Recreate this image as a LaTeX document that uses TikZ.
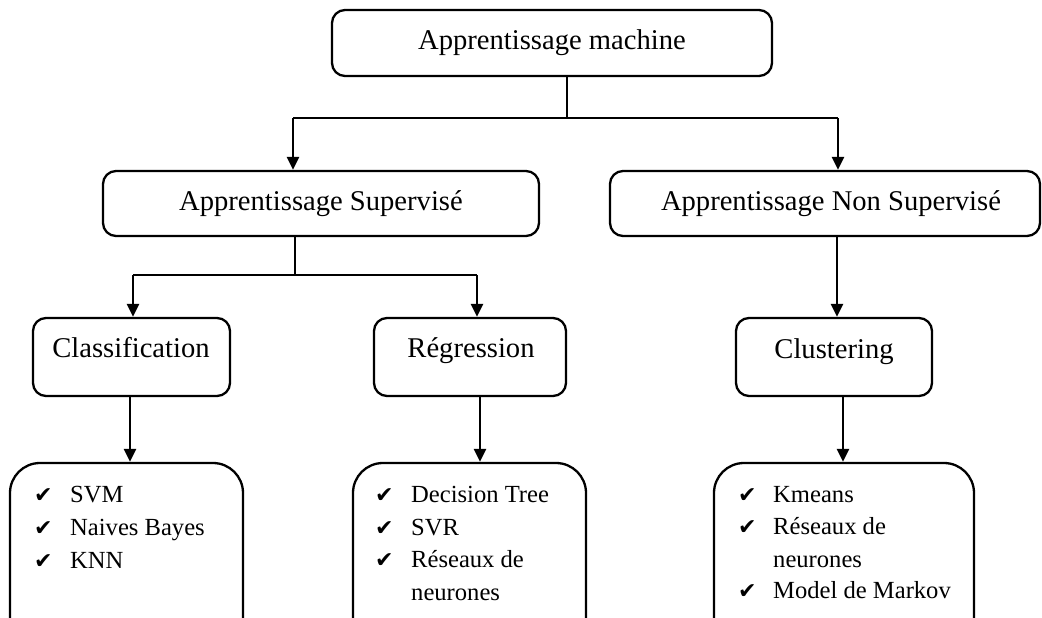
\documentclass[tikz,border=0pt]{standalone}
\usepackage{fontspec}
\setmainfont{Liberation Serif}
\newfontfamily\symfont{DejaVu Sans}
\usetikzlibrary{arrows.meta}
\begin{document}
\begin{tikzpicture}[x=1pt,y=-1pt,
  box/.style={draw=black, line width=2.3pt, rounded corners=13pt, inner sep=0pt},
  lbox/.style={draw=black, line width=2.3pt, rounded corners=30pt, inner sep=0pt},
  head/.style={font=\fontsize{28.6}{34}\selectfont, inner sep=0pt, anchor=base},
  item/.style={font=\fontsize{24.6}{33}\selectfont, inner sep=0pt, anchor=base west},
  chk/.style={font=\symfont\fontsize{22}{26}\selectfont, inner sep=0pt, anchor=base west},
  conn/.style={line width=2.3pt},
  arr/.style={line width=2.3pt, -{Triangle[width=12pt,length=13pt]}}
]
\path[use as bounding box, fill=white] (0,0) rectangle (1042,618);
\clip (0,0) rectangle (1042,618);

% boxes
\node[box, minimum width=440, minimum height=66] (top) at (552,43) {};
\node[box, minimum width=436, minimum height=65] (sup) at (321,203.5) {};
\node[box, minimum width=430, minimum height=65] (nsup) at (825,203.5) {};
\node[box, minimum width=197, minimum height=78] (cls) at (131.5,357) {};
\node[box, minimum width=192, minimum height=78] (reg) at (470,357) {};
\node[box, minimum width=196, minimum height=78] (clu) at (834,357) {};
\node[lbox, minimum width=233, minimum height=187] (b1) at (126.5,556.5) {};
\node[lbox, minimum width=233, minimum height=187] (b2) at (469.5,556.5) {};
\node[lbox, minimum width=260, minimum height=187] (b3) at (844,556.5) {};

% headings
\node[head] (ttop) at (552,50) {Apprentissage machine};
\node[head] (tsup) at (321,210) {Apprentissage Supervisé};
\node[head] (tnsup) at (831,210) {Apprentissage Non Supervisé};
\node[head] (tcls) at (131,357) {Classification};
\node[head] (treg) at (471,357) {Régression};
\node[head] (tclu) at (834,358) {Clustering};

% lists
\node[chk] (c11) at (34,502) {✔};
\node[item] (i11) at (70,502) {SVM};
\node[chk] (c12) at (34,535) {✔};
\node[item] (i12) at (70,535) {Naives Bayes};
\node[chk] (c13) at (34,568) {✔};
\node[item] (i13) at (70,568) {KNN};

\node[chk] (c21) at (375,502) {✔};
\node[item] (i21) at (411,502) {Decision Tree};
\node[chk] (c22) at (375,535) {✔};
\node[item] (i22) at (411,535) {SVR};
\node[chk] (c23) at (375,567) {✔};
\node[item] (i23) at (411,567) {Réseaux de};
\node[item] (i24) at (411,600) {neurones};

\node[chk] (c31) at (738,502) {✔};
\node[item] (i31) at (773,502) {Kmeans};
\node[chk] (c32) at (738,534) {✔};
\node[item] (i32) at (773,534) {Réseaux de};
\node[item] (i33) at (773,567) {neurones};
\node[chk] (c34) at (738,598) {✔};
\node[item] (i34) at (773,598) {Model de Markov};

% connectors
\coordinate (j1) at (567,118);
\coordinate (a1) at (293,118);
\coordinate (a2) at (838,118);
\draw[conn] (top.south -| j1) -- (j1);
\draw[conn] (a1) -- (a2);
\draw[arr] (a1) -- (sup.north -| a1);
\draw[arr] (a2) -- (nsup.north -| a2);

\coordinate (j2) at (295,275);
\coordinate (a3) at (133,275);
\coordinate (a4) at (477,275);
\draw[conn] (sup.south -| j2) -- (j2);
\draw[conn] (a3) -- (a4);
\draw[arr] (a3) -- (cls.north -| a3);
\draw[arr] (a4) -- (reg.north -| a4);

\coordinate (x1) at (837,0);
\draw[arr] (nsup.south -| x1) -- (clu.north -| x1);

\coordinate (x2) at (130,0);
\coordinate (x3) at (480,0);
\coordinate (x4) at (843,0);
\draw[arr] (cls.south -| x2) -- (b1.north -| x2);
\draw[arr] (reg.south -| x3) -- (b2.north -| x3);
\draw[arr] (clu.south -| x4) -- (b3.north -| x4);
\end{tikzpicture}
\end{document}
